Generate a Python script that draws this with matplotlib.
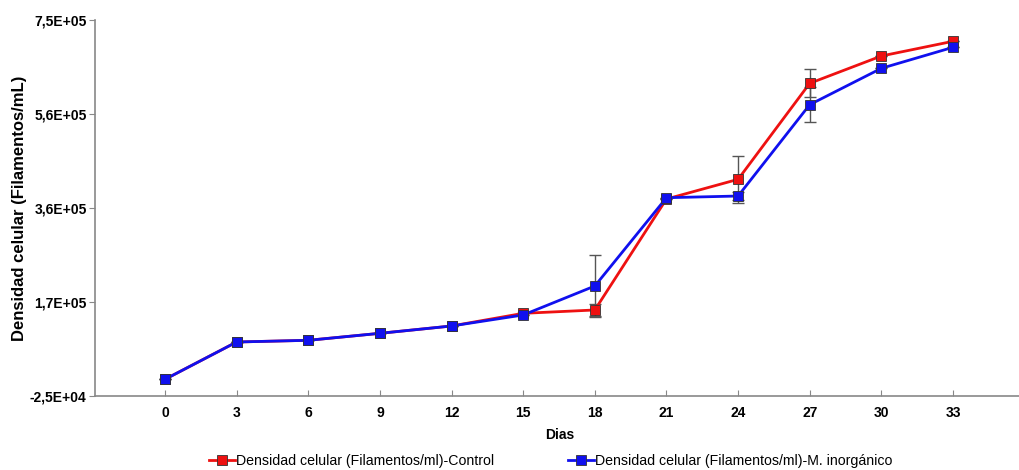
import matplotlib
matplotlib.use("Agg")
import matplotlib.pyplot as plt
from matplotlib import font_manager
import numpy as np

# Data: days and mean cell density (filaments/mL) with error
dias = [0, 3, 6, 9, 12, 15, 18, 21, 24, 27, 30, 33]
control = [9400, 86300, 89800, 104200, 119300, 145400, 152300, 381000, 421600, 619500, 675800, 706100]
control_err = [0, 0, 0, 0, 0, 0, 12000, 0, 48700, 29000, 0, 0]
inorganico = [9400, 86300, 89800, 104200, 119300, 142000, 201700, 383700, 387200, 575500, 650400, 693700]
inorganico_err = [0, 0, 0, 0, 0, 0, 64000, 0, 8000, 35700, 0, 0]

y_ticks = [-25000, 168750, 362500, 556250, 750000]
y_ticklabels = ["-2,5E+04", "1,7E+05", "3,6E+05", "5,6E+05", "7,5E+05"]

label_control = "Densidad celular (Filamentos/ml)-Control"
label_inorg = "Densidad celular (Filamentos/ml)-M. inorgánico"

available = {f.name for f in font_manager.fontManager.ttflist}
narrow = "Liberation Sans Narrow" if "Liberation Sans Narrow" in available else "Liberation Sans"
plt.rcParams["font.family"] = [narrow, "DejaVu Sans"]

W, H = 1019, 470
fig = plt.figure(figsize=(W / 100, H / 100), dpi=100)
ax = fig.add_axes([95 / W, (H - 396) / H, (W - 95) / W, (396 - 20) / H])

px_per_day = (953 - 165) / 33
ax.set_xlim(-(165 - 95) / px_per_day, (W - 165) / px_per_day)
ax.set_ylim(-25000, 750000)

err_kw = dict(ecolor="#555555", elinewidth=1.0, capsize=4, capthick=1.0, zorder=2)
ax.errorbar(dias, control, yerr=control_err, fmt="none", **err_kw)
ax.errorbar(dias, inorganico, yerr=inorganico_err, fmt="none", **err_kw)

l1, = ax.plot(dias, control, color="#ee1111", lw=2.0, marker="s", ms=6.8,
              mfc="#ee1111", mec="#333333", mew=0.6, zorder=3, label=label_control)
l2, = ax.plot(dias, inorganico, color="#1010ee", lw=2.0, marker="s", ms=6.8,
              mfc="#1010ee", mec="#333333", mew=0.6, zorder=4, label=label_inorg)

for s in ["top", "right"]:
    ax.spines[s].set_visible(False)
for s in ["left", "bottom"]:
    ax.spines[s].set_color("#888888")
    ax.spines[s].set_linewidth(1.2)

ax.set_xticks(dias)
ax.set_xticklabels([str(d) for d in dias], fontsize=10, fontweight="bold")
ax.set_yticks(y_ticks)
ax.set_yticklabels(y_ticklabels, fontsize=10, fontweight="bold")
ax.tick_params(axis="x", direction="in", length=4, color="#888888", pad=7)
ax.tick_params(axis="y", direction="out", length=4, color="#888888", pad=2)

ax.set_xlabel("Dias", fontsize=10, fontweight="bold", labelpad=4)
ax.xaxis.set_label_coords((560 - 95) / (W - 95), -(428 - 396) / (396 - 20))
ax.set_ylabel("Densidad celular (Filamentos/mL)", fontsize=12, fontweight="bold",
              family=["Liberation Sans", "DejaVu Sans"])
ax.yaxis.set_label_coords(-(95 - 27) / (W - 95), 0.5)

fig.legend(handles=[l1, l2], loc="center", bbox_to_anchor=(551 / W, (H - 461) / H),
           ncol=2, frameon=False, fontsize=10.2, handlelength=1.8, handletextpad=0.1,
           columnspacing=5.2, borderaxespad=0)

fig.savefig("out.png", dpi=100, facecolor="white")
